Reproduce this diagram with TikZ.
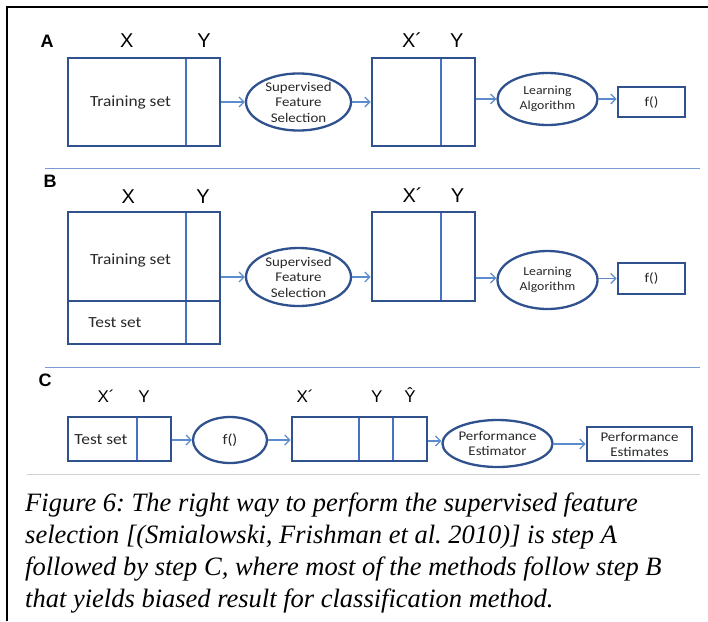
\documentclass[tikz,border=0pt]{standalone}
\usepackage{fontspec}
\setmainfont{Liberation Serif}
\newfontfamily\dgfont[FakeStretch=1.12]{Carlito}
\newfontfamily\lblfont{Liberation Sans}
\usetikzlibrary{arrows.meta,shapes.geometric,backgrounds}

\definecolor{boxblue}{RGB}{47,82,143}
\definecolor{divblue}{RGB}{68,114,196}
\definecolor{arrblue}{RGB}{91,140,205}
\definecolor{sepblue}{RGB}{120,155,210}
\definecolor{txtgray}{RGB}{40,40,40}

\tikzset{
  databox/.style={draw=boxblue, line width=2.8pt, inner sep=0pt, text=txtgray},
  oval/.style={ellipse, draw=boxblue, line width=2.3pt, inner sep=0pt,
    align=center, text=txtgray},
  divider/.style={draw=divblue, line width=1.3pt},
  thickdiv/.style={draw=boxblue, line width=2.8pt},
  flow/.style={draw=arrblue, line width=1.2pt,
    -{Straight Barb[length=5pt,width=10pt]}},
  sepline/.style={draw=sepblue, line width=1pt},
  colhead/.style={font=\lblfont\fontsize{20}{20}\selectfont, inner sep=0pt, anchor=base},
  colheadsm/.style={font=\lblfont\fontsize{17}{17}\selectfont, inner sep=0pt, anchor=base},
  panel/.style={font=\lblfont\bfseries\fontsize{18}{18}\selectfont, inner sep=0pt},
  boxtext/.style={font=\dgfont\fontsize{15.5}{18}\selectfont, text=txtgray, inner sep=0pt},
  captext/.style={font=\itshape\fontsize{26.5}{32}\selectfont, inner sep=0pt, anchor=base west},
}

\begin{document}
\frenchspacing
\begin{tikzpicture}[x=1pt, y=-1pt]
\useasboundingbox (0,0) rectangle (708,621);

% outer frame
\draw[line width=2pt] (6.5,621) -- (6.5,6.5) -- (708,6.5);

% ---------------- panel A ----------------
\node[panel] (lblA) at (47,41.5) {A};
\node[colhead] (xA1) at (126.7,47) {X};
\node[colhead] (yA1) at (204,47) {Y};
\node[colhead] (xA2) at (412,47) {X´};
\node[colhead] (yA2) at (456.7,47) {Y};

\node[databox, minimum width=152pt, minimum height=88pt] (trainA) at (144,102) {};
\node[boxtext] (trainAtxt) at (130.5,102) {Training set};
\node[oval, minimum width=105pt, minimum height=56pt,
  font=\dgfont\fontsize{13.3}{15.5}\selectfont] (sfsA) at (298.5,102)
  {Supervised\\Feature\\Selection};
\node[databox, minimum width=103pt, minimum height=88pt] (redA) at (423.5,102) {};
\node[oval, minimum width=100pt, minimum height=52pt,
  font=\dgfont\fontsize{12.3}{15.5}\selectfont] (learnA) at (547.5,99)
  {Learning\\Algorithm};
\node[databox, minimum width=67pt, minimum height=30pt,
  font=\dgfont\fontsize{13.5}{15}\selectfont] (fA) at (651.5,102) {f()};

\begin{scope}[on background layer]
  \draw[divider] (186,58) -- (186,146);
  \draw[divider] (441,58) -- (441,146);
\end{scope}

\draw[flow] (trainA.east) -- (sfsA.west);
\draw[flow] (sfsA.east) -- (redA.west);
\draw[flow] (redA.east |- learnA.west) -- (learnA.west);
\draw[flow] (learnA.east) -- (fA.west |- learnA.east);

\draw[sepline] (45,168.3) -- (700,168.3);

% ---------------- panel B ----------------
\node[panel] (lblB) at (50,181) {B};
\node[colhead] (xB1) at (128.3,203) {X};
\node[colhead] (yB1) at (203,203) {Y};
\node[colhead] (xB2) at (412.5,202) {X´};
\node[colhead] (yB2) at (457.5,202) {Y};

\node[databox, minimum width=152pt, minimum height=132pt] (trainB) at (144,278) {};
\node[boxtext] (trainBtxt) at (130.5,260) {Training set};
\node[boxtext] (testBtxt) at (115,323) {Test set};
\node[oval, minimum width=105pt, minimum height=58pt,
  font=\dgfont\fontsize{13.3}{15.5}\selectfont] (sfsB) at (298.5,277)
  {Supervised\\Feature\\Selection};
\node[databox, minimum width=103pt, minimum height=89pt] (redB) at (423.5,256.5) {};
\node[oval, minimum width=100pt, minimum height=58pt,
  font=\dgfont\fontsize{12.3}{15.5}\selectfont] (learnB) at (547.5,280)
  {Learning\\Algorithm};
\node[databox, minimum width=67pt, minimum height=31pt,
  font=\dgfont\fontsize{13.5}{15}\selectfont] (fB) at (651.5,278.5) {f()};

\begin{scope}[on background layer]
  \draw[divider] (186,212) -- (186,344);
  \draw[thickdiv] (68,301) -- (220,301);
  \draw[divider] (441,212) -- (441,301);
\end{scope}

\draw[flow] (trainB.east |- sfsB.west) -- (sfsB.west);
\draw[flow] (sfsB.east) -- (redB.west |- sfsB.east);
\draw[flow] (redB.east |- 0,278) -- (learnB.west |- 0,278);
\draw[flow] (learnB.east |- fB.west) -- (fB.west);

\draw[sepline] (45,367) -- (700,367);

% ---------------- panel C ----------------
\node[panel] (lblC) at (45,380) {C};
\node[colheadsm] (xC1) at (106,402) {X´};
\node[colheadsm] (yC1) at (144,402) {Y};
\node[colheadsm] (xC2) at (305,402) {X´};
\node[colheadsm] (yC2) at (376.7,402) {Y};
\node[colheadsm] (yhatC) at (410,402) {Ŷ};

\node[databox, minimum width=103pt, minimum height=44pt] (testC) at (119.5,439) {};
\node[boxtext] (testCtxt) at (101,440) {Test set};
\node[oval, minimum width=74pt, minimum height=46pt,
  font=\dgfont\fontsize{14.5}{16}\selectfont] (fC) at (230,440) {f()};
\node[databox, minimum width=135pt, minimum height=44pt] (predC) at (359.5,439) {};
\node[oval, minimum width=95pt, minimum height=47pt,
  font=\dgfont\fontsize{13.3}{14.5}\selectfont] (perfC) at (497.5,443.5)
  {Performance\\Estimator};
\node[databox, minimum width=105pt, minimum height=34pt,
  font=\dgfont\fontsize{13.3}{15}\selectfont, align=center] (estC) at (639.5,444)
  {Performance\\Estimates};

\begin{scope}[on background layer]
  \draw[divider] (137,417) -- (137,461);
  \draw[divider] (359,417) -- (359,461);
  \draw[divider] (393,417) -- (393,461);
\end{scope}

\draw[flow] (testC.east |- fC.west) -- (fC.west);
\draw[flow] (fC.east) -- (predC.west |- fC.east);
\draw[flow] (predC.east |- 0,441) -- (perfC.west |- 0,441);
\draw[flow] (perfC.east |- estC.west) -- (estC.west);

\draw[gray!35, line width=0.8pt] (27,474) -- (700,474);

% ---------------- caption ----------------
\node[captext] (cap1) at (25,511) {Figure 6: The right way to perform the supervised feature};
\node[captext] (cap2) at (25,543) {selection [(Smialowski, Frishman et al. 2010)] is step A};
\node[captext] (cap3) at (25,575) {followed by step C, where most of the methods follow step B};
\node[captext] (cap4) at (25,607) {that yields biased result for classification method.};
\end{tikzpicture}
\end{document}
